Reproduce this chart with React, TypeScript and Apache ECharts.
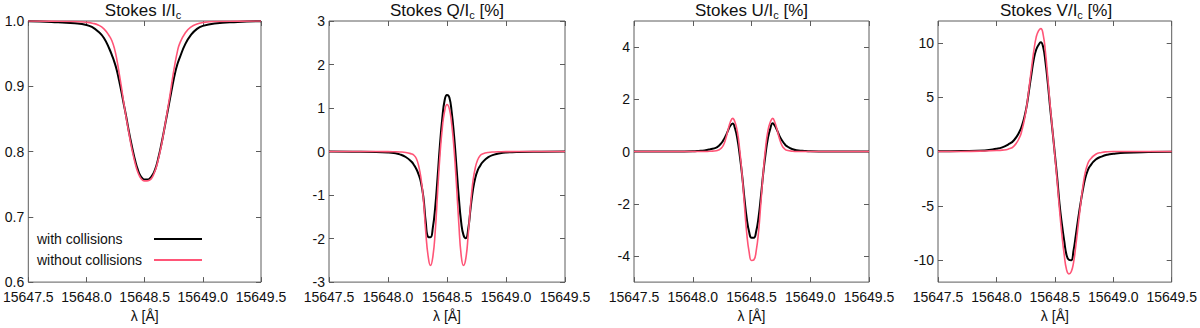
import React, { useEffect, useRef } from "react";
import * as echarts from "echarts";

// Wavelength grid [Å]
const WAVELENGTH = [
  15647.5, 15647.7, 15647.9, 15648.0, 15648.05, 15648.1, 15648.15, 15648.2, 15648.22, 15648.24,
  15648.26, 15648.28, 15648.3, 15648.32, 15648.34, 15648.36, 15648.38, 15648.4, 15648.42, 15648.44,
  15648.46, 15648.48, 15648.5, 15648.52, 15648.54, 15648.56, 15648.58, 15648.6, 15648.62, 15648.64,
  15648.66, 15648.68, 15648.7, 15648.72, 15648.74, 15648.76, 15648.78, 15648.8, 15648.85, 15648.9,
  15648.95, 15649.0, 15649.1, 15649.3, 15649.5,
];

// Stokes I/Ic
const I_WITH = [
  0.9997, 0.9985, 0.9964, 0.994, 0.9905, 0.984, 0.974, 0.956, 0.947, 0.937,
  0.925, 0.909, 0.892, 0.873, 0.855, 0.835, 0.817, 0.8, 0.785, 0.773,
  0.764, 0.759, 0.757, 0.757, 0.758, 0.762, 0.768, 0.778, 0.792, 0.808,
  0.826, 0.845, 0.864, 0.883, 0.902, 0.919, 0.933, 0.943, 0.965, 0.979,
  0.988, 0.9925, 0.9962, 0.9985, 0.9997,
];
const I_WITHOUT = [
  1.0, 0.9998, 0.9993, 0.998, 0.9966, 0.994, 0.988, 0.976, 0.969, 0.958,
  0.942, 0.921, 0.899, 0.875, 0.853, 0.833, 0.813, 0.796, 0.781, 0.769,
  0.761, 0.7565, 0.755, 0.755, 0.756, 0.759, 0.766, 0.776, 0.79, 0.806,
  0.825, 0.846, 0.867, 0.889, 0.913, 0.934, 0.952, 0.965, 0.982, 0.991,
  0.9955, 0.9976, 0.9992, 0.9998, 1.0,
];

// Stokes Q/Ic [%]
const Q_WITH = [
  0, -0.002, -0.008, -0.02, -0.035, -0.065, -0.125, -0.235, -0.31, -0.4,
  -0.53, -0.72, -1.05, -1.62, -1.96, -1.97, -1.75, -1.28, -0.6, 0.15,
  0.76, 1.18, 1.3, 1.24, 0.9, 0.36, -0.34, -1.05, -1.62, -1.92,
  -1.99, -1.78, -1.3, -0.88, -0.6, -0.43, -0.33, -0.25, -0.13, -0.07,
  -0.037, -0.02, -0.008, -0.002, 0,
];
const Q_WITHOUT = [
  0, 0, 0, -0.002, -0.005, -0.01, -0.02, -0.055, -0.085, -0.16,
  -0.33, -0.62, -1.1, -1.85, -2.4, -2.62, -2.42, -1.85, -0.95, -0.1,
  0.54, 0.93, 1.08, 0.98, 0.63, 0.05, -0.75, -1.65, -2.38, -2.62,
  -2.45, -1.9, -1.22, -0.68, -0.37, -0.19, -0.095, -0.055, -0.02, -0.01,
  -0.005, -0.002, 0, 0, 0,
];

// Stokes U/Ic [%]
const U_WITH = [
  0, 0.001, 0.005, 0.012, 0.025, 0.045, 0.09, 0.15, 0.21, 0.3,
  0.43, 0.6, 0.8, 0.99, 1.07, 0.88, 0.48, -0.15, -0.9, -1.8,
  -2.58, -3.08, -3.3, -3.3, -3.05, -2.52, -1.72, -0.83, -0.08, 0.52,
  0.88, 1.08, 0.98, 0.79, 0.58, 0.42, 0.3, 0.21, 0.09, 0.045,
  0.025, 0.012, 0.005, 0.001, 0,
];
const U_WITHOUT = [
  0, 0, 0, 0, 0.001, 0.003, 0.012, 0.03, 0.06, 0.12,
  0.24, 0.48, 0.82, 1.13, 1.27, 1.12, 0.75, 0.05, -0.9, -2.05,
  -3.15, -3.85, -4.17, -4.15, -3.8, -3.08, -1.95, -0.8, 0.15, 0.8,
  1.13, 1.27, 1.1, 0.8, 0.46, 0.23, 0.11, 0.05, 0.012, 0.003,
  0.001, 0, 0, 0, 0,
];

// Stokes V/Ic [%]
const V_WITH = [
  0.03, 0.05, 0.1, 0.25, 0.38, 0.64, 1.04, 1.88, 2.43, 3.2,
  4.24, 5.7, 7.15, 8.5, 9.36, 9.8, 10.04, 9.6, 8.2, 6.26,
  4.0, 1.9, -0.23, -2.4, -4.8, -6.65, -8.2, -9.5, -9.95, -10.0,
  -9.1, -7.65, -6.15, -4.75, -3.5, -2.45, -1.77, -1.35, -0.74, -0.46,
  -0.29, -0.21, -0.12, -0.05, -0.02,
];
const V_WITHOUT = [
  0, 0.01, 0.05, 0.09, 0.13, 0.22, 0.5, 1.35, 2.04, 2.97,
  4.24, 5.93, 7.63, 9.25, 10.5, 11.1, 11.3, 10.75, 9.1, 6.73,
  4.25, 1.95, -0.37, -2.77, -5.35, -7.62, -9.48, -10.85, -11.25, -11.05,
  -10.2, -8.6, -6.74, -4.91, -3.2, -1.92, -1.16, -0.75, -0.25, -0.08,
  -0.02, 0, 0, 0, 0,
];

// Tick values
const I_TICKS = [0.6, 0.7, 0.8, 0.9, 1.0];
const Q_TICKS = [-3, -2, -1, 0, 1, 2, 3];
const U_TICKS = [-4, -2, 0, 2, 4];
const V_TICKS = [-10, -5, 0, 5, 10];

const SERIES_NAMES = ["with collisions", "without collisions"];
const X_MIN = 15647.5;
const X_MAX = 15649.5;
const X_STEP = 0.5;

const FONT = '"Liberation Sans", Arial, Helvetica, sans-serif';
const BLACK = "#000000";
const RED = "#ff5577";
const FRAME = "#5c5c5c";
const TEXT = "#111111";

export default function App() {
  const ref = useRef<HTMLDivElement>(null);

  useEffect(() => {
    if (!ref.current) return;
    const chart = echarts.init(ref.current, null, { renderer: "svg" });

    const panels = [
      { title: "Stokes I/I", unit: "", a: I_WITH, b: I_WITHOUT, min: 0.6, max: 1.0, ticks: I_TICKS, dec: 1, left: 25, width: 236 },
      { title: "Stokes Q/I", unit: " [%]", a: Q_WITH, b: Q_WITHOUT, min: -3, max: 3, ticks: Q_TICKS, dec: 0, left: 329, width: 236 },
      { title: "Stokes U/I", unit: " [%]", a: U_WITH, b: U_WITHOUT, min: -5, max: 5, ticks: U_TICKS, dec: 0, left: 634, width: 235 },
      { title: "Stokes V/I", unit: " [%]", a: V_WITH, b: V_WITHOUT, min: -12, max: 12, ticks: V_TICKS, dec: 0, left: 938, width: 236 },
    ];
    const TOP = 21;
    const HEIGHT = 269;

    const grid: any[] = [];
    const xAxis: any[] = [];
    const yAxis: any[] = [];
    const series: any[] = [];
    const title: any[] = [];

    const tickStyle = { inside: true, length: 5, lineStyle: { color: FRAME, width: 1 } };

    panels.forEach((p, i) => {
      grid.push({
        left: p.left,
        top: TOP,
        width: p.width,
        height: HEIGHT,
        show: true,
        borderColor: FRAME,
        borderWidth: 1,
        backgroundColor: "transparent",
      });
      xAxis.push({
        type: "value",
        gridIndex: i,
        position: "bottom",
        min: X_MIN,
        max: X_MAX,
        interval: X_STEP,
        axisLine: { show: false, onZero: false },
        axisTick: tickStyle,
        splitLine: { show: false },
        axisLabel: {
          margin: 8,
          fontSize: 14,
          color: TEXT,
          fontFamily: FONT,
          formatter: (v: number) => v.toFixed(1),
        },
        name: "λ [Å]",
        nameLocation: "middle",
        nameGap: 23,
        nameTextStyle: { fontSize: 14, color: TEXT, fontFamily: FONT },
      });
      xAxis.push({
        type: "value",
        gridIndex: i,
        position: "top",
        min: X_MIN,
        max: X_MAX,
        interval: X_STEP,
        axisLine: { show: false, onZero: false },
        axisTick: tickStyle,
        splitLine: { show: false },
        axisLabel: { show: false },
      });
      yAxis.push({
        type: "value",
        gridIndex: i,
        position: "left",
        min: p.min,
        max: p.max,
        axisLine: { show: false, onZero: false },
        axisTick: { ...tickStyle, customValues: p.ticks },
        splitLine: { show: false },
        axisLabel: {
          customValues: p.ticks,
          margin: 4,
          fontSize: 14,
          color: TEXT,
          fontFamily: FONT,
          formatter: (v: number) => (p.dec ? v.toFixed(p.dec) : String(Math.round(v))),
        },
      });
      yAxis.push({
        type: "value",
        gridIndex: i,
        position: "right",
        min: p.min,
        max: p.max,
        axisLine: { show: false, onZero: false },
        axisTick: { ...tickStyle, customValues: p.ticks },
        splitLine: { show: false },
        axisLabel: { show: false },
      });
      const mk = (arr: number[]) => WAVELENGTH.map((x, k) => [x, arr[k]]);
      series.push({
        name: SERIES_NAMES[0],
        type: "line",
        xAxisIndex: 2 * i,
        yAxisIndex: 2 * i,
        data: mk(p.a),
        symbol: "none",
        smooth: true,
        color: BLACK,
        itemStyle: { color: BLACK },
        lineStyle: { color: BLACK, width: 2 },
        z: 2,
      });
      series.push({
        name: SERIES_NAMES[1],
        type: "line",
        xAxisIndex: 2 * i,
        yAxisIndex: 2 * i,
        data: mk(p.b),
        symbol: "none",
        smooth: true,
        color: RED,
        itemStyle: { color: RED },
        lineStyle: { color: RED, width: 1.6 },
        z: 3,
      });
      title.push({
        text: `{n|${p.title}}{s|c}` + (p.unit ? `{n|${p.unit}}` : ""),
        left: p.left + p.width / 2,
        top: 0,
        textAlign: "center",
        padding: 0,
        textStyle: {
          fontWeight: "normal",
          rich: {
            n: { fontSize: 17, lineHeight: 20, fontWeight: "normal", color: TEXT, fontFamily: FONT },
            s: { fontSize: 11, lineHeight: 11, fontWeight: "normal", verticalAlign: "bottom", color: TEXT, fontFamily: FONT },
          },
        },
      });
    });

    chart.setOption({
      animation: false,
      backgroundColor: "#ffffff",
      title,
      grid,
      xAxis,
      yAxis,
      series,
      legend: {
        data: [
          { name: SERIES_NAMES[0], icon: "rect", itemStyle: { color: BLACK } },
          { name: SERIES_NAMES[1], icon: "rect", itemStyle: { color: RED } },
        ],
        left: 37,
        top: 232,
        orient: "vertical",
        align: "right",
        padding: 0,
        itemWidth: 48,
        itemHeight: 2,
        itemGap: 7,
        selectedMode: false,
        formatter: (name: string) => `{t|${name}}`,
        textStyle: {
          rich: {
            t: { width: 112, align: "left", fontSize: 14, lineHeight: 14, color: TEXT, fontFamily: FONT },
          },
        },
      },
    });

    return () => chart.dispose();
  }, []);

  return (
    <div
      ref={ref}
      style={{ position: "fixed", left: 0, top: 0, width: 1200, height: 328, background: "#fff" }}
    />
  );
}
